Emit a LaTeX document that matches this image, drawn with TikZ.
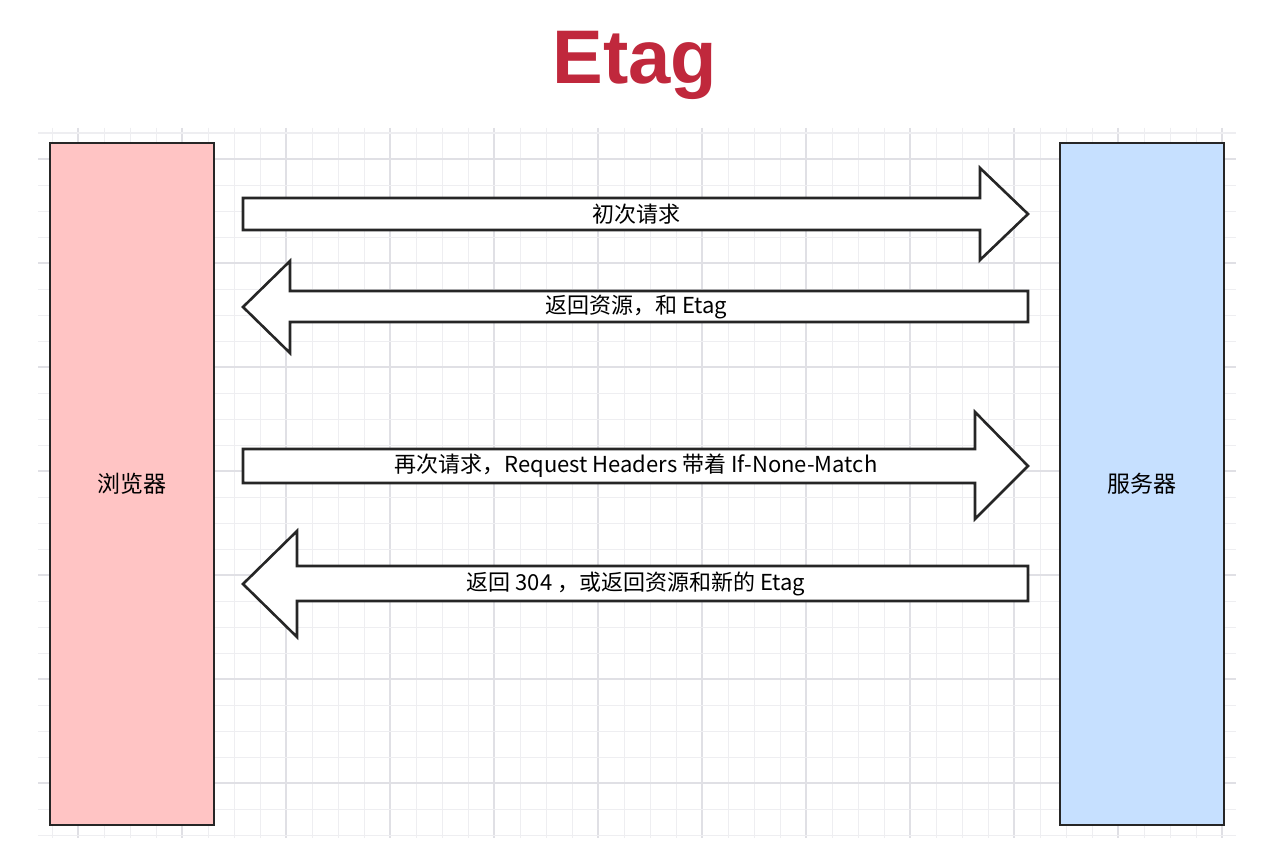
\documentclass[tikz,border=0pt]{standalone}
\usepackage{fontspec}
\setmainfont{Noto Sans CJK SC}
\definecolor{etred}{HTML}{C0283C}
\definecolor{pinkf}{HTML}{FFC4C4}
\definecolor{bluef}{HTML}{C6E0FF}
\definecolor{gridc}{HTML}{EEEEF1}
\definecolor{gridm}{HTML}{E0E0E5}
\begin{document}
\begin{tikzpicture}[x=0.5pt,y=-0.5pt,
  box/.style={draw=black!85,line width=1.3pt,minimum width=82pt,minimum height=341pt,inner sep=0pt,font=\fontsize{11.5}{13}\selectfont},
  arr/.style={draw=black!85,line width=1.3pt,fill=white,line join=miter},
  lbl/.style={font=\fontsize{11}{13}\selectfont,inner sep=0pt}]
\useasboundingbox (0,0) rectangle (1268,856);
\fill[white] (0,0) rectangle (1268,856);
\foreach \k in {0,...,45} {
  \pgfmathtruncatemacro\m{mod(\k,4)}
  \ifnum\m=1 \draw[gridm,line width=0.7pt] ({52+26*\k},128) -- ({52+26*\k},838);
  \else \draw[gridc,line width=0.5pt] ({52+26*\k},128) -- ({52+26*\k},838); \fi}
\foreach \k in {0,...,27} {
  \pgfmathtruncatemacro\m{mod(\k,4)}
  \ifnum\m=1 \draw[gridm,line width=0.7pt] (38,{133+26*\k}) -- (1236,{133+26*\k});
  \else \draw[gridc,line width=0.5pt] (38,{133+26*\k}) -- (1236,{133+26*\k}); \fi}
\node[text=etred,font=\fontsize{38}{40}\selectfont\bfseries\sffamily,inner sep=0pt] (title) at (635,65) {\fontspec{Liberation Sans}\bfseries Etag};
\node[box,fill=pinkf] (browser) at (132,484) {浏览器};
\node[box,fill=bluef] (server) at (1142,484) {服务器};
% arrow 1 right
\draw[arr] (243,198) -- (980,198) -- (980,168) -- (1028,214) -- (980,260) -- (980,230) -- (243,230) -- cycle;
\node[lbl] (l1) at (636,214) {初次请求};
% arrow 2 left
\draw[arr] (1028,291) -- (290,291) -- (290,261) -- (243,307) -- (290,353) -- (290,322) -- (1028,322) -- cycle;
\node[lbl] (l2) at (636,307) {返回资源，和 Etag};
% arrow 3 right
\draw[arr] (243,449) -- (975,449) -- (975,412) -- (1028,466) -- (975,519) -- (975,483) -- (243,483) -- cycle;
\node[lbl] (l3) at (636,466) {再次请求，Request Headers 带着 If-None-Match};
% arrow 4 left
\draw[arr] (1028,566) -- (297,566) -- (297,531) -- (243,584) -- (297,637) -- (297,601) -- (1028,601) -- cycle;
\node[lbl] (l4) at (636,584) {返回 304 ，或返回资源和新的 Etag};
\end{tikzpicture}
\end{document}
